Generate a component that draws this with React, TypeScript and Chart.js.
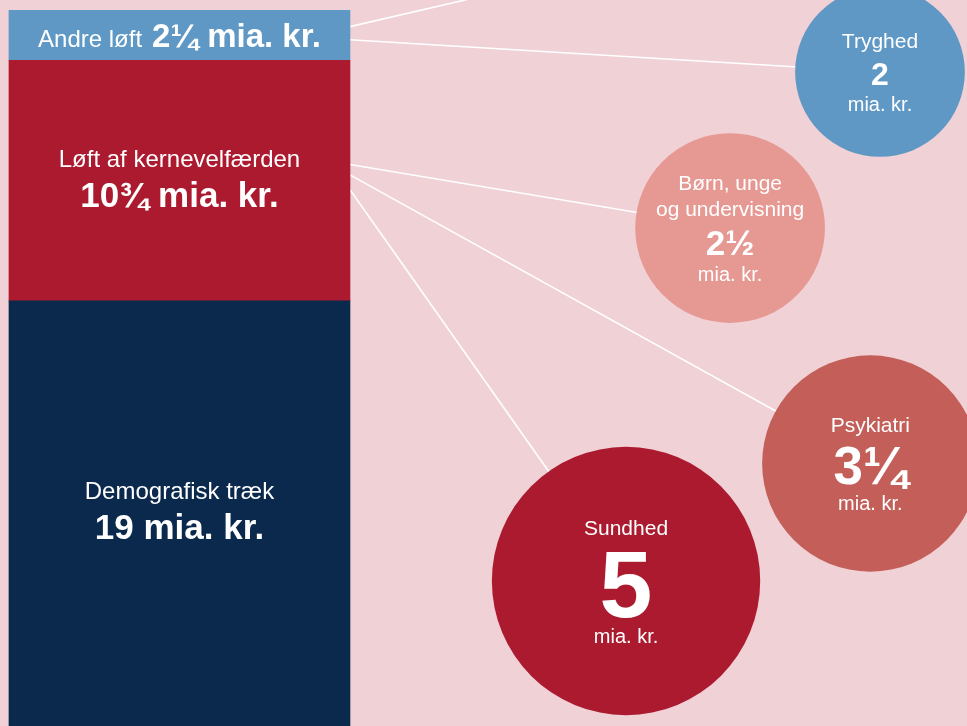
import React, { useEffect, useRef } from 'react';
import { Chart, registerables } from 'chart.js';

Chart.register(...registerables);

// ---------- data ----------
const BAR_LABELS = ['Demografisk træk', 'Løft af kernevelfærden', 'Andre løft'];
const BAR_VALUES = [19, 10.75, 2.25];
const BAR_VALUE_TEXT = ['19', '10¾', '2¼'];

const BUBBLE_LABELS = [['Tryghed'], ['Børn, unge', 'og undervisning'], ['Psykiatri'], ['Sundhed']];
const BUBBLE_VALUES = [2, 2.5, 3.25, 5];
const BUBBLE_VALUE_TEXT = ['2', '2½', '3¼', '5'];
const BUBBLE_SOURCE = [2, 1, 1, 1]; // bar segment each bubble is linked to
const UNIT = 'mia. kr.';

// ---------- layout / style ----------
const BAR_COLORS = ['#0B284D', '#AB1A2E', '#5F98C4'];
const BUBBLE_COLORS = ['#5F98C4', '#E69893', '#C35F58', '#AB1A2E'];
const BG = '#F0D1D6';
const FONT = "'Liberation Sans', Arial, Helvetica, sans-serif";
const BAR_POS = 18.56; // layout units (0..100 across)
const BAR_THICKNESS = 341;
const BUBBLE_X = [91.0, 75.5, 90.0, 64.74]; // layout units
const BUBBLE_Y = [8.66, 30.45, 63.34, 79.75]; // layout units (0 top .. 100 bottom)
const BUBBLE_NUMBER_FONT = [32, 35, 53, 95];
const RADIUS_PER_SQRT = 60; // px per sqrt(mia. kr.)
const LINK_ANCHOR = [0.59, 0.433, 0.476, 0.538]; // fraction down the source segment
const EXTRA_LINK = { source: 2, anchor: 0.33, x: 72.4, y: -9 }; // leads off the top of the picture

const linksPlugin = {
  id: 'links',
  beforeDatasetsDraw(chart: any) {
    const ctx = chart.ctx;
    const bx = chart.scales.x;
    const by = chart.scales.by;
    const segPoint = (src: number, frac: number) => {
      const el: any = chart.getDatasetMeta(src).data[0];
      const top = Math.min(el.y, el.base);
      const bot = Math.max(el.y, el.base);
      return { x: el.x + el.width / 2, y: top + (bot - top) * frac };
    };
    ctx.save();
    ctx.strokeStyle = '#FFFFFF';
    ctx.lineWidth = 1.6;
    const drawLine = (p: any, x: number, y: number) => {
      ctx.beginPath();
      ctx.moveTo(p.x, p.y);
      ctx.lineTo(x, y);
      ctx.stroke();
    };
    BUBBLE_VALUES.forEach((_, i) => {
      const p = segPoint(BUBBLE_SOURCE[i], LINK_ANCHOR[i]);
      drawLine(p, bx.getPixelForValue(BUBBLE_X[i]), by.getPixelForValue(BUBBLE_Y[i]));
    });
    const pe = segPoint(EXTRA_LINK.source, EXTRA_LINK.anchor);
    drawLine(pe, bx.getPixelForValue(EXTRA_LINK.x), by.getPixelForValue(EXTRA_LINK.y));
    ctx.restore();
  },
};

const labelsPlugin = {
  id: 'labels',
  afterDatasetsDraw(chart: any) {
    const ctx = chart.ctx;
    ctx.save();
    ctx.fillStyle = '#FFFFFF';
    ctx.textBaseline = 'alphabetic';
    // bar segment labels
    BAR_VALUES.forEach((_, i) => {
      const el: any = chart.getDatasetMeta(i).data[0];
      const top = Math.min(el.y, el.base);
      const bot = Math.max(el.y, el.base);
      const cx = el.x;
      const cy = (top + bot) / 2;
      const name = BAR_LABELS[i];
      const num = `${BAR_VALUE_TEXT[i]} ${UNIT}`;
      const regFont = `24px ${FONT}`;
      if (bot - top < 80) {
        const boldFont = `bold 33px ${FONT}`;
        ctx.font = regFont;
        const w1 = ctx.measureText(name).width;
        ctx.font = boldFont;
        const w2 = ctx.measureText(num).width;
        const gap = 10;
        const start = cx - (w1 + gap + w2) / 2;
        const base = cy + 12;
        ctx.textAlign = 'left';
        ctx.font = regFont;
        ctx.fillText(name, start, base);
        ctx.font = boldFont;
        ctx.fillText(num, start + w1 + gap, base);
      } else {
        ctx.textAlign = 'center';
        ctx.font = regFont;
        ctx.fillText(name, cx, cy - 14);
        ctx.font = `bold 35px ${FONT}`;
        ctx.fillText(num, cx, cy + 26);
      }
    });
    // bubble labels
    const meta = chart.getDatasetMeta(BAR_VALUES.length);
    ctx.textAlign = 'center';
    BUBBLE_VALUES.forEach((_, i) => {
      const el: any = meta.data[i];
      const cx = el.x;
      const cy = el.y;
      const lines = BUBBLE_LABELS[i];
      const labelSize = 21;
      const capL = 0.716 * labelSize;
      const lineGap = 26;
      const numFont = BUBBLE_NUMBER_FONT[i];
      const numCap = 0.716 * numFont;
      const H = capL + (lines.length - 1) * lineGap + 14 + numCap + 26;
      let b = cy - H / 2 + capL;
      ctx.font = `${labelSize}px ${FONT}`;
      lines.forEach((l, j) => ctx.fillText(l, cx, b + j * lineGap));
      b += (lines.length - 1) * lineGap + 14 + numCap;
      ctx.font = `bold ${numFont}px ${FONT}`;
      ctx.fillText(BUBBLE_VALUE_TEXT[i], cx, b);
      ctx.font = `20px ${FONT}`;
      ctx.fillText(UNIT, cx, b + 26);
    });
    ctx.restore();
  },
};

export default function App() {
  const ref = useRef<HTMLCanvasElement | null>(null);
  useEffect(() => {
    if (!ref.current) return;
    const barSets = BAR_VALUES.map((v, i) => ({
      type: 'bar' as const,
      label: BAR_LABELS[i],
      data: [{ x: BAR_POS, y: v }],
      backgroundColor: BAR_COLORS[i],
      borderWidth: 0,
      barThickness: BAR_THICKNESS,
      stack: 'total',
      xAxisID: 'x',
      yAxisID: 'y',
    }));
    const bubbleSet = {
      type: 'bubble' as const,
      label: 'Fordeling',
      data: BUBBLE_VALUES.map((v, i) => ({
        x: BUBBLE_X[i],
        y: BUBBLE_Y[i],
        r: RADIUS_PER_SQRT * Math.sqrt(v),
      })),
      backgroundColor: BUBBLE_COLORS,
      borderWidth: 0,
      hoverBorderWidth: 0,
      clip: false as const,
      xAxisID: 'x',
      yAxisID: 'by',
    };
    const chart = new Chart(ref.current, {
      type: 'bar',
      data: { datasets: [...barSets, bubbleSet] as any },
      options: {
        animation: false,
        responsive: false,
        maintainAspectRatio: false,
        devicePixelRatio: 1,
        layout: { autoPadding: false, padding: { top: 10, left: 0, right: 0, bottom: 0 } },
        events: [],
        plugins: { legend: { display: false }, tooltip: { enabled: false } },
        scales: {
          x: { type: 'linear', min: 0, max: 100, offset: false, display: false, grid: { offset: false } },
          y: { type: 'linear', min: 0, max: 32, stacked: true, display: false },
          by: { type: 'linear', min: 0, max: 100, reverse: true, display: false },
        },
      } as any,
      plugins: [linksPlugin, labelsPlugin],
    });
    return () => chart.destroy();
  }, []);
  return (
    <div style={{ position: 'absolute', left: 0, top: 0, width: 967, height: 726, background: BG, overflow: 'hidden' }}>
      <canvas ref={ref} width={967} height={726} style={{ display: 'block' }} />
    </div>
  );
}
